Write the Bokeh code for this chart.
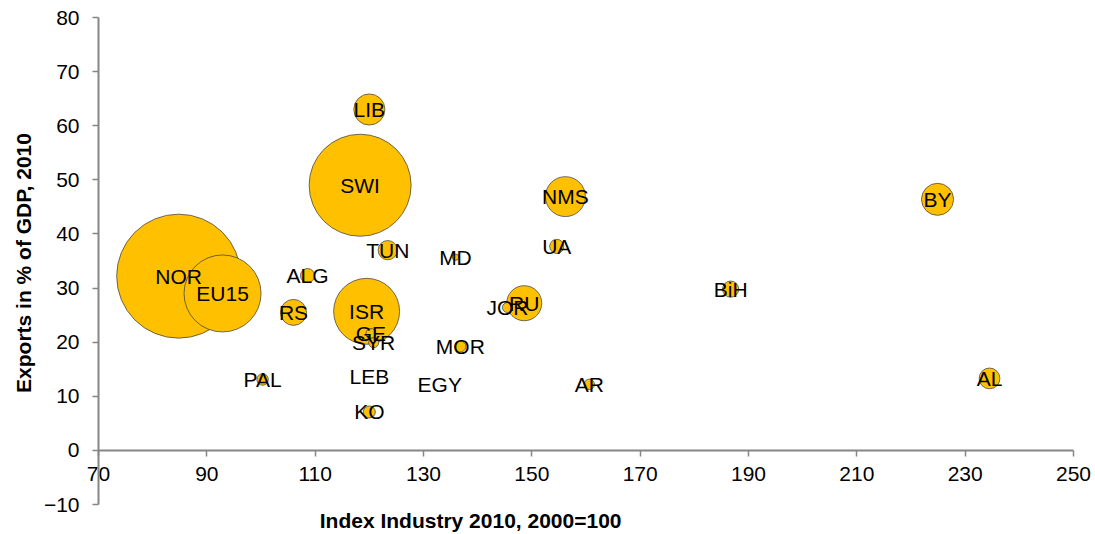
import math
from bokeh.plotting import figure
from bokeh.models import Range1d, FixedTicker, ColumnDataSource, Label
from bokeh.core.properties import value
from bokeh.embed import file_html
from bokeh.resources import INLINE

# ---- data ----
countries = ["NOR", "EU15", "SWI", "LIB", "TUN", "ALG", "RS", "ISR", "GE", "SYR",
             "LEB", "KO", "PAL", "EGY", "MD", "MOR", "JOR", "RU", "NMS", "UA",
             "AR", "BiH", "BY", "AL"]
industry_index = [84.8, 92.9, 118.3, 120.0, 123.4, 108.6, 106.0, 119.5, 120.3, 120.8,
                  120.0, 120.0, 100.3, 133.0, 135.9, 136.8, 145.5, 148.6, 156.2, 154.6,
                  160.6, 186.7, 224.9, 234.5]
exports_gdp = [32.2, 29.0, 49.0, 63.0, 37.0, 32.3, 25.5, 25.7, 21.6, 19.9,
               13.7, 7.1, 13.1, 12.2, 35.7, 19.2, 26.4, 27.2, 46.9, 37.7,
               12.2, 29.8, 46.4, 13.3]
bubble_size = [100, 38.6, 67.7, 6.3, 2.4, 1.3, 4.4, 28.3, 0.65, 0.65,
               0.0, 0.94, 0.85, 0.0, 0.27, 0.79, 0.65, 8.0, 10.4, 1.3,
               0.70, 1.7, 6.7, 2.8]
x_ticks = [70, 90, 110, 130, 150, 170, 190, 210, 230, 250]
y_ticks = [-10, 0, 10, 20, 30, 40, 50, 60, 70, 80]
x_title = "Index Industry 2010, 2000=100"
y_title = "Exports in % of GDP, 2010"

# ---- layout geometry (screen px) ----
W, H = 1092, 533
PLOT_L, PLOT_R = 98, 1073      # x=70 .. x=250 in canvas px
PLOT_T, PLOT_B = 17, 504       # y=80 .. y=-10 in canvas px
X0, X1 = 70, 250
Y0, Y1 = -10, 80
sx = (PLOT_R - PLOT_L) / (X1 - X0)
sy = (PLOT_B - PLOT_T) / (Y1 - Y0)
x_range = Range1d(X0 - PLOT_L / sx, X1 + (W - PLOT_R) / sx)
y_range = Range1d(Y0 - (H - PLOT_B) / sy, Y1 + PLOT_T / sy)

# ---- bubbles ----
MAX_DIAM = 124  # screen px diameter of the largest bubble
diam = [MAX_DIAM * math.sqrt(s / 100.0) for s in bubble_size]
order = sorted(range(len(countries)), key=lambda i: -bubble_size[i])
src = ColumnDataSource(dict(
    x=[industry_index[i] for i in order],
    y=[exports_gdp[i] for i in order],
    name=[countries[i] for i in order],
    d=[diam[i] for i in order],
))

FONT = "Liberation Sans"
FS = "21px"
AXIS_COL = "#868686"

p = figure(width=W, height=H, x_range=x_range, y_range=y_range,
           output_backend="svg", toolbar_location=None,
           min_border=0)
p.outline_line_color = None
p.grid.visible = False
p.background_fill_color = "white"
p.border_fill_color = "white"

p.scatter(x="x", y="y", size="d", source=src, marker="circle",
          fill_color="#FFC000", line_color="#404040", line_width=0.75)
p.text(x="x", y="y", text="name", source=src,
       text_align="center", text_baseline="middle",
       text_font=value(FONT), text_font_size=FS, text_color="black")

for ax in (p.xaxis[0], p.yaxis[0]):
    ax.axis_line_color = AXIS_COL
    ax.axis_line_width = 2
    ax.major_tick_line_color = AXIS_COL
    ax.major_tick_line_width = 1.5
    ax.major_tick_out = 6
    ax.major_tick_in = 0
    ax.minor_tick_out = 0
    ax.minor_tick_in = 0
    ax.major_label_text_font = FONT
    ax.major_label_text_font_size = FS
    ax.major_label_text_color = "black"

p.xaxis[0].ticker = FixedTicker(ticks=x_ticks)
p.yaxis[0].ticker = FixedTicker(ticks=y_ticks)
p.xaxis[0].bounds = (X0, X1)
p.yaxis[0].bounds = (Y0, Y1)
p.xaxis[0].fixed_location = 0
p.yaxis[0].fixed_location = X0
p.xaxis[0].major_label_standoff = 11
p.yaxis[0].major_label_standoff = 13

p.add_layout(Label(x=23, y=H - (PLOT_T + PLOT_B) / 2 - 2, x_units="screen", y_units="screen",
                   text=y_title, angle=math.pi / 2, text_align="center",
                   text_baseline="middle", text_font=FONT,
                   text_font_style="bold", text_font_size=FS,
                   text_color="black"))

p.add_layout(Label(x=138.7, y=Y0, x_units="data", y_units="data",
                   y_offset=-16, text=x_title, text_align="center",
                   text_baseline="middle", text_font=FONT,
                   text_font_style="bold", text_font_size=FS,
                   text_color="black"))

open("out.html", "w").write(file_html(p, INLINE))
